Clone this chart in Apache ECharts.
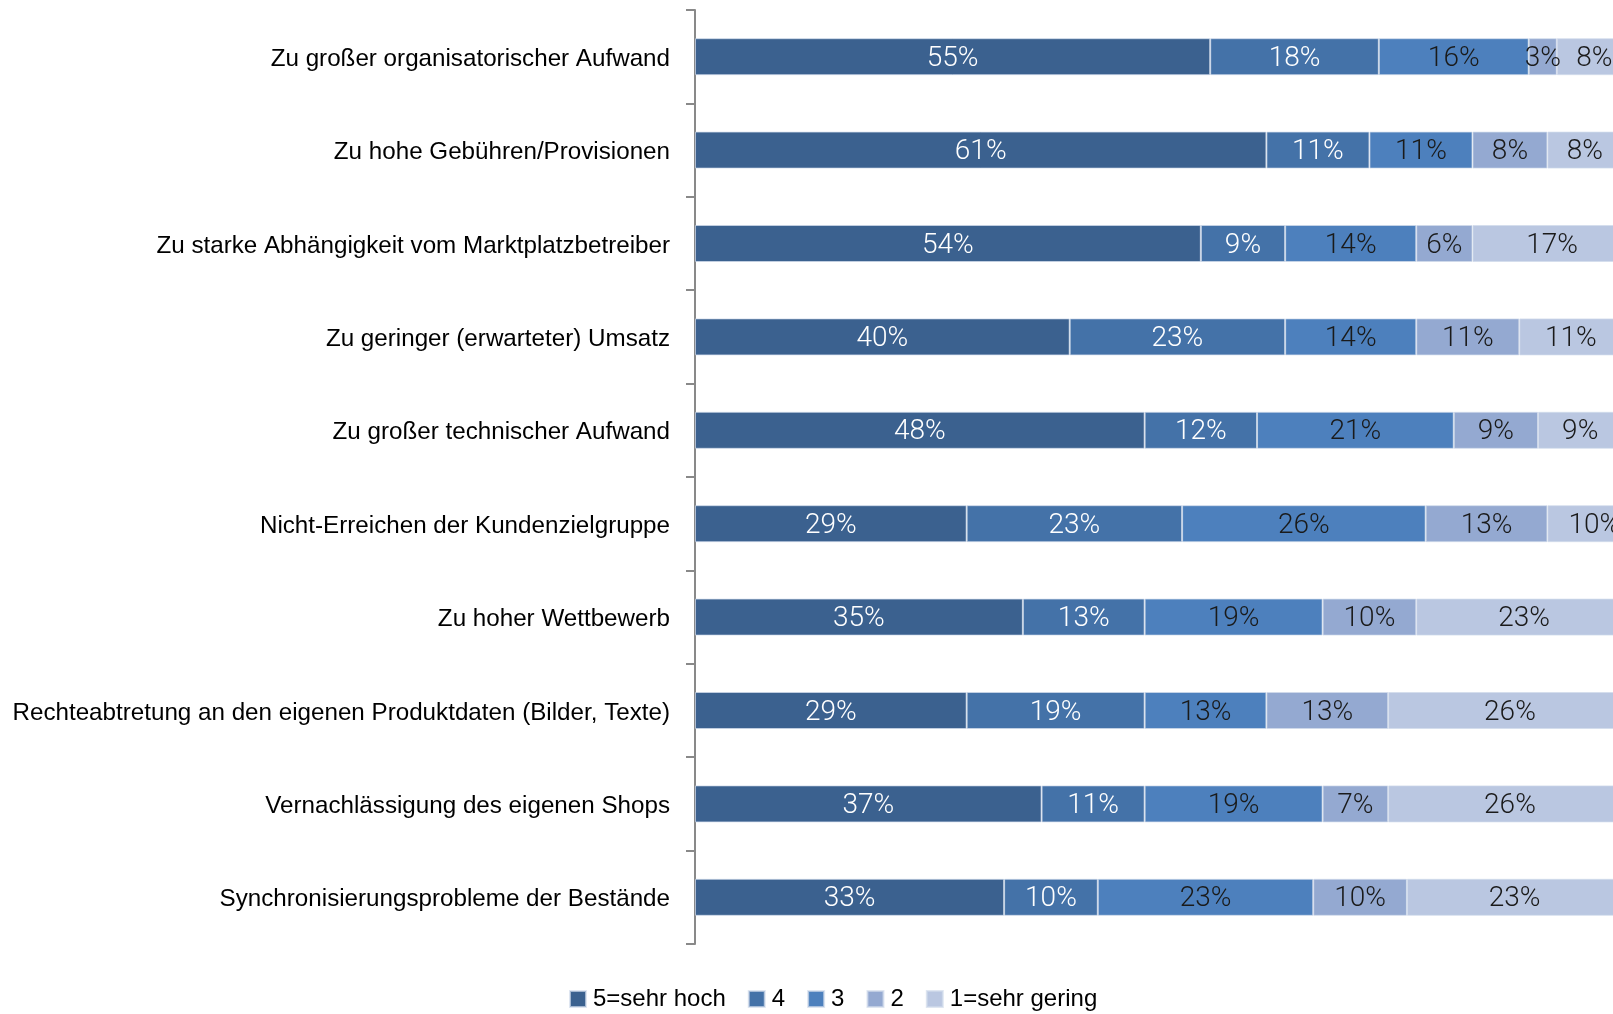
<!DOCTYPE html>
<html>
<head>
<meta charset="utf-8">
<script src="https://cdn.jsdelivr.net/npm/echarts@6/dist/echarts.min.js"></script>
<style>
html,body{margin:0;padding:0;background:#fff;}
#chart{width:1613px;height:1014px;}
</style>
</head>
<body>
<div id="chart"></div>
<script>
const categories = [
  "Zu großer organisatorischer Aufwand",
  "Zu hohe Gebühren/Provisionen",
  "Zu starke Abhängigkeit vom Marktplatzbetreiber",
  "Zu geringer (erwarteter) Umsatz",
  "Zu großer technischer Aufwand",
  "Nicht-Erreichen der Kundenzielgruppe",
  "Zu hoher Wettbewerb",
  "Rechteabtretung an den eigenen Produktdaten (Bilder, Texte)",
  "Vernachlässigung des eigenen Shops",
  "Synchronisierungsprobleme der Bestände"
];
const seriesNames = ["5=sehr hoch", "4", "3", "2", "1=sehr gering"];
const s5 = [55, 61, 54, 40, 48, 29, 35, 29, 37, 33];
const s4 = [18, 11, 9, 23, 12, 23, 13, 19, 11, 10];
const s3 = [16, 11, 14, 14, 21, 26, 19, 13, 19, 23];
const s2 = [3, 8, 6, 11, 9, 13, 10, 13, 7, 10];
const s1 = [8, 8, 17, 11, 9, 10, 23, 26, 26, 23];

const seriesData = [s5, s4, s3, s2, s1];
const colors = ["#3B618F", "#4472A8", "#4D80BD", "#94A9D1", "#BAC7E1"];
const labelColors = ["#ffffff", "#ffffff", "#1a1a1a", "#1a1a1a", "#1a1a1a"];

const chart = echarts.init(document.getElementById('chart'), null, {renderer: 'canvas'});
chart.setOption({
  animation: false,
  backgroundColor: '#ffffff',
  grid: {left: 695, top: 10, height: 934, right: 0, containLabel: false},
  xAxis: {
    type: 'value', min: 0, max: 98, show: false
  },
  yAxis: {
    type: 'category',
    data: categories,
    inverse: true,
    axisLine: {show: true, lineStyle: {color: '#898989', width: 2}},
    axisTick: {show: true, length: 9, lineStyle: {color: '#898989', width: 2}},
    axisLabel: {
      margin: 25,
      formatter: v => '{a|' + v + '}',
      rich: {
        a: {
          fontFamily: '"Liberation Sans", Arial, sans-serif',
          fontSize: 24.2,
          color: '#000000',
          padding: [5, 0, 0, 0]
        }
      }
    },
    splitLine: {show: false}
  },
  legend: {
    data: seriesNames,
    left: 569,
    top: 987,
    padding: 0,
    itemWidth: 16,
    itemHeight: 16,
    itemGap: 22,
    icon: 'rect',
    textStyle: {fontFamily: 'Liberation Sans, Arial, sans-serif', fontSize: 24, color: '#000000', padding: [0,0,0,2]}
  },
  series: seriesData.map((d, i) => ({
    name: seriesNames[i],
    type: 'bar',
    stack: 'total',
    barWidth: 37,
    clip: false,
    data: d,
    itemStyle: {color: colors[i], borderColor: 'rgba(210,220,235,0.7)', borderWidth: 1},
    label: {
      show: true,
      position: 'inside',
      offset: [0, 2],
      formatter: p => p.value + '%',
      fontFamily: 'Roboto, sans-serif',
      fontWeight: 300,
      fontSize: 28,
      color: labelColors[i]
    }
  }))
});
</script>
</body>
</html>
